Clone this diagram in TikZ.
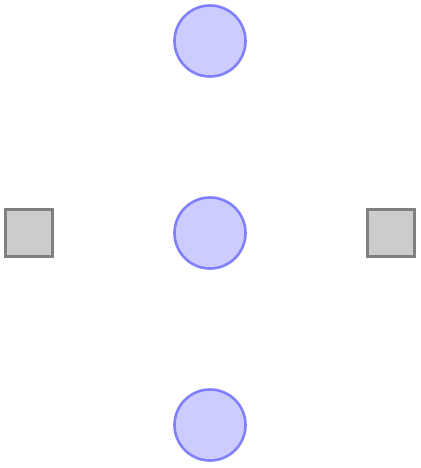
\documentclass[tikz,border=0pt]{standalone}
\begin{document}
\begin{tikzpicture}[x=1pt,y=-1pt,
  place/.style={circle,draw=blue!50,fill=blue!20,line width=2.6pt,minimum size=71pt,inner sep=0pt},
  transition/.style={rectangle,draw=black!50,fill=black!20,line width=2.6pt,minimum size=47pt,inner sep=0pt}]
\useasboundingbox (0,0) rectangle (420,468);
\node[place] (p1) at (210,41) {};
\node[place] (p2) at (210,233) {};
\node[place] (p3) at (210,425) {};
\node[transition] (t1) at (29,233) {};
\node[transition] (t2) at (391,233) {};
\end{tikzpicture}
\end{document}
